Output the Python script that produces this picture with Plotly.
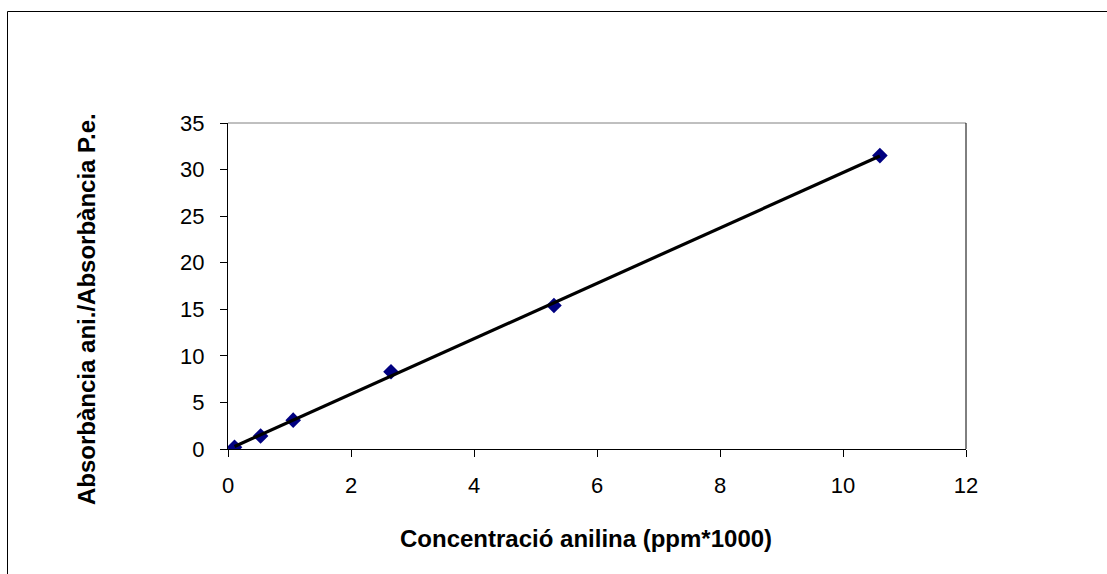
import numpy as np
import plotly.graph_objects as go

# Data
concentracio = [0.106, 0.53, 1.06, 2.65, 5.3, 10.6]
absorbancia_ratio = [0.18, 1.4, 3.1, 8.3, 15.4, 31.5]
x_ticks = [0, 2, 4, 6, 8, 10, 12]
y_ticks = [0, 5, 10, 15, 20, 25, 30, 35]

x_title = "Concentració anilina (ppm*1000)"
y_title = "Absorbància ani./Absorbància P.e."

# Linear trendline (least squares)
slope, intercept = np.polyfit(concentracio, absorbancia_ratio, 1)
tx = np.array([min(concentracio), max(concentracio)])
ty = slope * tx + intercept

W, H = 1107, 574
L, R, T, B = 228, 966, 123, 449
pw, ph = R - L, B - T

def px(x):
    return (x - L) / pw

def py(y):
    return (B - y) / ph

FONT = "Liberation Sans, Arial, sans-serif"

fig = go.Figure()
fig.add_trace(go.Scatter(
    x=concentracio, y=absorbancia_ratio, mode="markers",
    marker=dict(symbol="diamond", size=12, color="#000080",
                line=dict(width=0)),
    showlegend=False, hoverinfo="x+y"))
fig.add_trace(go.Scatter(
    x=tx, y=ty, mode="lines",
    line=dict(color="black", width=3.2),
    showlegend=False, hoverinfo="skip"))

fig.update_layout(
    width=W, height=H,
    margin=dict(l=L, r=W - R, t=T, b=H - B, pad=0),
    paper_bgcolor="white", plot_bgcolor="white",
    font=dict(family=FONT, color="black", size=22),
    xaxis=dict(range=[0, 12], tickvals=x_ticks, ticks="outside", ticklen=7,
               tickcolor="black", tickwidth=1, showline=True, linecolor="black",
               linewidth=1, showgrid=False, zeroline=False,
               tickfont=dict(size=22, family=FONT, color="black"),
               ticklabelstandoff=10),
    yaxis=dict(range=[0, 35], tickvals=y_ticks, ticks="outside", ticklen=7,
               tickcolor="black", tickwidth=1, showline=True, linecolor="black",
               linewidth=1, showgrid=False, zeroline=False,
               tickfont=dict(size=22, family=FONT, color="black"),
               ticklabelstandoff=11),
    shapes=[
        # plot area top border (gray) and right border
        dict(type="line", xref="paper", yref="paper", x0=0, x1=1, y0=1, y1=1,
             line=dict(color="#808080", width=1)),
        dict(type="line", xref="paper", yref="paper", x0=1, x1=1, y0=0, y1=1,
             line=dict(color="black", width=1)),
        # chart area border
        dict(type="rect", xref="paper", yref="paper",
             x0=px(7.5), x1=px(1115), y0=py(11.5), y1=py(585),
             line=dict(color="black", width=1), fillcolor="rgba(0,0,0,0)"),
    ],
    annotations=[
        dict(text=f"<b>{x_title}</b>", xref="paper", yref="paper",
             x=px(586), y=py(538), xanchor="center", yanchor="middle",
             showarrow=False, font=dict(size=24, family=FONT, color="black")),
        dict(text=f"<b>{y_title}</b>", xref="paper", yref="paper",
             x=px(86), y=py(309), xanchor="center", yanchor="middle",
             textangle=-90, showarrow=False,
             font=dict(size=24, family=FONT, color="black")),
    ],
)

fig.write_html("out.html")
